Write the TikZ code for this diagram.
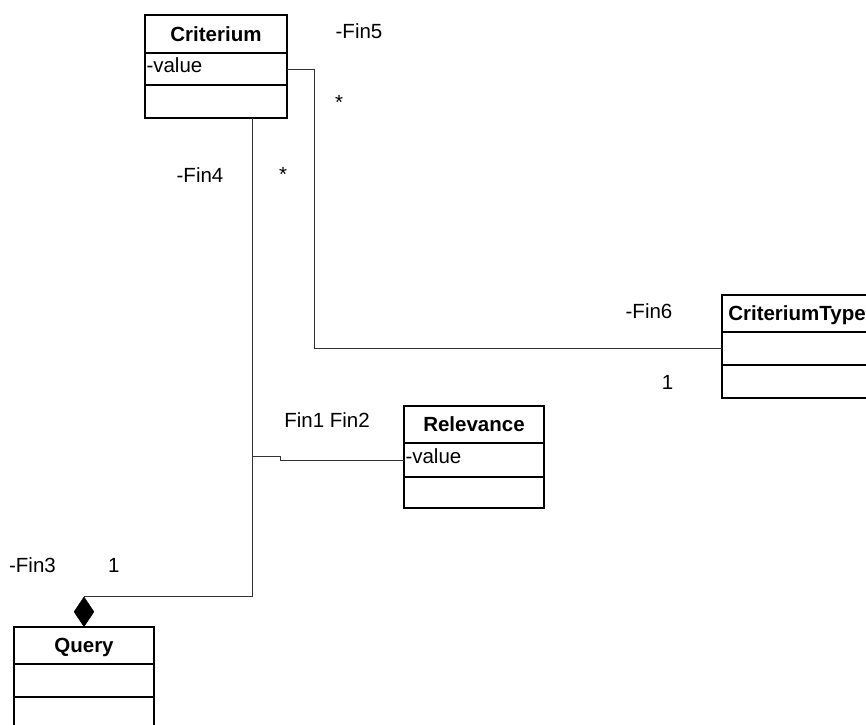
\documentclass[tikz,border=0pt]{standalone}
\usepackage{fontspec}
\setmainfont{Liberation Sans}
\usetikzlibrary{shapes.geometric}
\begin{document}
\begin{tikzpicture}[x=1pt,y=-1pt,
  box/.style={draw, line width=1.4pt, inner sep=0pt, outer sep=0pt, anchor=north west,
    font=\fontsize{20.5}{24}\selectfont},
  head/.style={box, font=\fontsize{20.5}{24}\selectfont\bfseries, text height=14.6pt, text depth=0pt},
  attr/.style={box, inner xsep=1.5pt, align=left, text height=10.5pt, text depth=3.5pt},
  conn/.style={draw=black!80, line width=0.9pt},
  lbl/.style={anchor=base, inner sep=0pt, font=\fontsize{20.5}{24}\selectfont}]
\useasboundingbox (0,0) rectangle (866,724);
\clip (0,0) rectangle (866,724);
% Criterium
\node[head, minimum width=142pt, minimum height=38pt] (crit) at (145,15) {Criterium};
\node[attr, minimum width=142pt, text width=139pt, minimum height=32pt] (critA) at (145,53) {-value};
\node[box, minimum width=142pt, minimum height=33pt] (critO) at (145,85) {};
% CriteriumType
\node[head, minimum width=150pt, minimum height=37pt] (ct) at (722,295) {CriteriumType};
\node[box, minimum width=150pt, minimum height=33pt] (ctA) at (722,332) {};
\node[box, minimum width=150pt, minimum height=33pt] (ctO) at (722,365) {};
% Relevance
\node[head, minimum width=140pt, minimum height=37pt] (rel) at (404,406) {Relevance};
\node[attr, minimum width=140pt, text width=137pt, minimum height=34pt] (relA) at (404,443) {-value};
\node[box, minimum width=140pt, minimum height=31pt] (relO) at (404,477) {};
% Query
\node[head, minimum width=140pt, minimum height=37pt] (query) at (14,627) {Query};
\node[box, minimum width=140pt, minimum height=33pt] (queryA) at (14,664) {};
\node[box, minimum width=140pt, minimum height=40pt] (queryO) at (14,697) {};
% composition diamond
\node[diamond, fill=black, draw=black, inner sep=0pt, minimum width=20pt, minimum height=30pt,
  anchor=south] (dia) at (query.north) {};
% connectors
\coordinate (c1) at (252,118);
\coordinate (j) at (252,456);
\draw[conn] (dia.north) -| (c1);
\draw[conn] (j) -- ++(28,0) |- (relA.west);
\draw[conn] (critA.east) -- ++(27,0) |- (ctA.west);
% labels
\node[lbl] (l5) at (359,38) {-Fin5};
\node[lbl] (s1) at (339,109) {*};
\node[lbl] (l4) at (200,182) {-Fin4};
\node[lbl] (s2) at (283,181) {*};
\node[lbl] (l6) at (649,318) {-Fin6};
\node[lbl] (o1) at (667.5,389) {1};
\node[lbl] (l12) at (327,427) {Fin1 Fin2};
\node[lbl] (l3) at (32.5,572) {-Fin3};
\node[lbl] (o2) at (113.7,572) {1};
\end{tikzpicture}
\end{document}
